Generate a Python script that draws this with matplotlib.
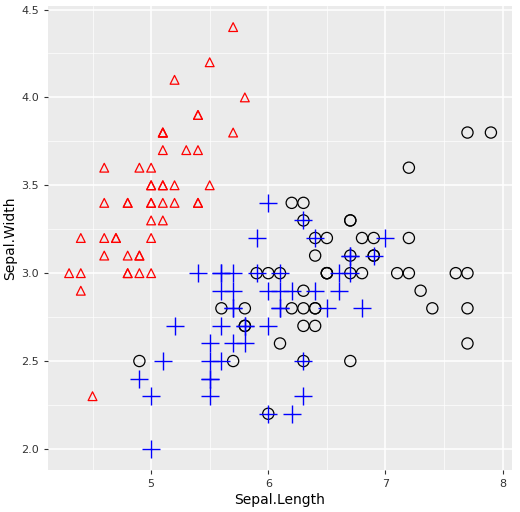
import matplotlib
matplotlib.use("Agg")
import matplotlib.pyplot as plt

setosa_x = [5.1,4.9,4.7,4.6,5.0,5.4,4.6,5.0,4.4,4.9,5.4,4.8,4.8,4.3,5.8,5.7,5.4,5.1,5.7,5.1,5.4,5.1,4.6,5.1,4.8,5.0,5.0,5.2,5.2,4.7,4.8,5.4,5.2,5.5,4.9,5.0,5.5,4.9,4.4,5.1,5.0,4.5,4.4,5.0,5.1,4.8,5.1,4.6,5.3,5.0]
setosa_y = [3.5,3.0,3.2,3.1,3.6,3.9,3.4,3.4,2.9,3.1,3.7,3.4,3.0,3.0,4.0,4.4,3.9,3.5,3.8,3.8,3.4,3.7,3.6,3.3,3.4,3.0,3.4,3.5,3.4,3.2,3.1,3.4,4.1,4.2,3.1,3.2,3.5,3.6,3.0,3.4,3.5,2.3,3.2,3.5,3.8,3.0,3.8,3.2,3.7,3.3]
versi_x = [7.0,6.4,6.9,5.5,6.5,5.7,6.3,4.9,6.6,5.2,5.0,5.9,6.0,6.1,5.6,6.7,5.6,5.8,6.2,5.6,5.9,6.1,6.3,6.1,6.4,6.6,6.8,6.7,6.0,5.7,5.5,5.5,5.8,6.0,5.4,6.0,6.7,6.3,5.6,5.5,5.5,6.1,5.8,5.0,5.6,5.7,5.7,6.2,5.1,5.7]
versi_y = [3.2,3.2,3.1,2.3,2.8,2.8,3.3,2.4,2.9,2.7,2.0,3.0,2.2,2.9,2.9,3.1,3.0,2.7,2.2,2.5,3.2,2.8,2.5,2.8,2.9,3.0,2.8,3.0,2.9,2.6,2.4,2.4,2.7,2.7,3.0,3.4,3.1,2.3,3.0,2.5,2.6,3.0,2.6,2.3,2.7,3.0,2.9,2.9,2.5,2.8]
virg_x = [6.3,5.8,7.1,6.3,6.5,7.6,4.9,7.3,6.7,7.2,6.5,6.4,6.8,5.7,5.8,6.4,6.5,7.7,7.7,6.0,6.9,5.6,7.7,6.3,6.7,7.2,6.2,6.1,6.4,7.2,7.4,7.9,6.4,6.3,6.1,7.7,6.3,6.4,6.0,6.9,6.7,6.9,5.8,6.8,6.7,6.7,6.3,6.5,6.2,5.9]
virg_y = [3.3,2.7,3.0,2.9,3.0,3.0,2.5,2.9,2.5,3.6,3.2,2.7,3.0,2.5,2.8,3.2,3.0,3.8,2.6,2.2,3.2,2.8,2.8,2.7,3.3,3.2,2.8,3.0,2.8,3.0,2.8,3.8,2.8,2.8,2.6,3.0,3.4,3.1,3.0,3.1,3.1,3.1,2.7,3.2,3.3,3.0,2.5,3.0,3.4,3.0]
x_ticks = [5, 6, 7, 8]
y_ticks = [2.0, 2.5, 3.0, 3.5, 4.0, 4.5]

fig = plt.figure(figsize=(5.2, 5.12), dpi=100)
ax = fig.add_axes([48/520, 42/512, 464/520, 464/512])
ax.set_facecolor("#EBEBEB")
ax.set_xlim(4.12, 8.08)
ax.set_ylim(1.88, 4.52)
for v in [4.5, 5.5, 6.5, 7.5]:
    ax.axvline(v, color="white", lw=0.5, zorder=0)
for v in [2.25, 2.75, 3.25, 3.75, 4.25]:
    ax.axhline(v, color="white", lw=0.5, zorder=0)
for v in x_ticks:
    ax.axvline(v, color="white", lw=1.1, zorder=0)
for v in y_ticks:
    ax.axhline(v, color="white", lw=1.1, zorder=0)
ax.set_axisbelow(True)

ax.scatter(setosa_x, setosa_y, marker="^", s=40, facecolors="none", edgecolors="red", linewidths=0.9, zorder=3)
ax.scatter(virg_x, virg_y, marker="o", s=65, facecolors="none", edgecolors="black", linewidths=0.9, zorder=3)
ax.scatter(versi_x, versi_y, marker="+", s=150, color="blue", linewidths=1.0, zorder=4)

ax.set_xticks(x_ticks)
ax.set_yticks(y_ticks)
ax.set_xticklabels([str(t) for t in x_ticks])
ax.set_yticklabels([f"{t:.1f}" for t in y_ticks])
ax.tick_params(colors="#333333", labelsize=8, length=3, color="#333333")
for s in ax.spines.values():
    s.set_visible(False)
ax.set_xlabel("Sepal.Length", fontsize=10, labelpad=3)
ax.set_ylabel("Sepal.Width", fontsize=10, labelpad=3)
fig.savefig("out.png", dpi=100)
